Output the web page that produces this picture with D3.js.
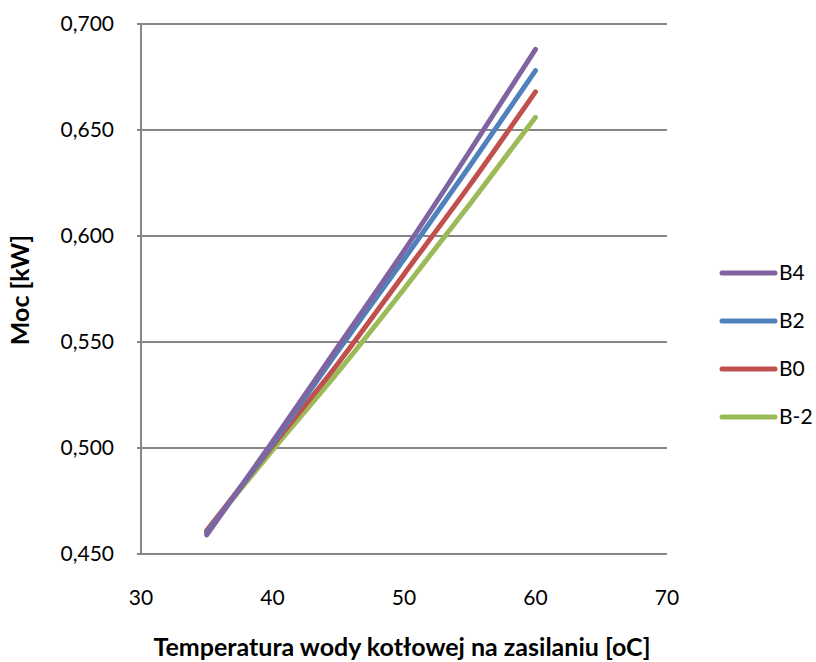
<!DOCTYPE html>
<html><head><meta charset="utf-8">
<script src="https://cdn.jsdelivr.net/npm/d3@7"></script>
<style>body{margin:0;background:#fff;}svg{display:block;font-family:Lato,"Open Sans",sans-serif;}</style>
</head><body>
<script>
const xValues = [35, 40, 45, 50, 55, 60];
const seriesNames = ["B4", "B2", "B0", "B-2"];
const B4  = [0.459, 0.503, 0.548, 0.593, 0.640, 0.688];
const B2  = [0.460, 0.502, 0.546, 0.589, 0.633, 0.678];
const B0  = [0.461, 0.501, 0.540, 0.582, 0.624, 0.668];
const Bm2 = [0.461, 0.499, 0.536, 0.575, 0.615, 0.656];
const seriesValues = [B4, B2, B0, Bm2];
const colors = ["#8064A2", "#4F81BD", "#C0504D", "#9BBB59"];
const xTicks = [30, 40, 50, 60, 70];
const yTicks = [0.45, 0.5, 0.55, 0.6, 0.65, 0.7];
const xTitle = "Temperatura wody kotłowej na zasilaniu [oC]";
const yTitle = "Moc [kW]";

const W = 816, H = 662;
const m = {left: 141, right: 667, top: 24, bottom: 554};
const svg = d3.select("body").append("svg").attr("width", W).attr("height", H);
const x = d3.scaleLinear().domain([30, 70]).range([m.left, m.right]);
const y = d3.scaleLinear().domain([0.45, 0.70]).range([m.bottom, m.top]);
const fmt = d => d3.format(".3f")(d).replace(".", ",");

// gridlines
svg.append("g").selectAll("line").data(yTicks).join("line")
  .attr("x1", m.left - 4).attr("x2", m.right)
  .attr("y1", d => y(d)).attr("y2", d => y(d))
  .attr("stroke", "#868686").attr("stroke-width", 2);
// y axis line
svg.append("line").attr("x1", m.left).attr("x2", m.left).attr("y1", m.top).attr("y2", m.bottom)
  .attr("stroke", "#868686").attr("stroke-width", 2);

// y tick labels
svg.append("g").selectAll("text").data(yTicks).join("text")
  .attr("x", 114).attr("y", d => y(d)).attr("dy", "0.35em")
  .attr("text-anchor", "end").attr("font-size", 21).attr("fill", "#000")
  .text(fmt);
// x tick labels
svg.append("g").selectAll("text").data(xTicks).join("text")
  .attr("x", d => x(d)).attr("y", 598).attr("dy", "0.35em")
  .attr("text-anchor", "middle").attr("font-size", 21).attr("fill", "#000")
  .text(d => d);

// titles
svg.append("text").attr("x", 402).attr("y", 647).attr("dy", "0.35em")
  .attr("text-anchor", "middle").attr("font-size", 25).attr("font-weight", "bold").text(xTitle);
svg.append("text").attr("transform", "translate(20,290) rotate(-90)").attr("dy", "0.35em")
  .attr("text-anchor", "middle").attr("font-size", 25).attr("font-weight", "bold").text(yTitle);

// lines
const line = d3.line().x((d, i) => x(xValues[i])).y(d => y(d)).curve(d3.curveMonotoneX);
const order = [3, 2, 1, 0];
svg.append("g").selectAll("path").data(order).join("path")
  .attr("d", i => line(seriesValues[i]))
  .attr("fill", "none").attr("stroke", i => colors[i]).attr("stroke-width", 5)
  .attr("stroke-linecap", "round").attr("stroke-linejoin", "round");

// legend
const lg = svg.append("g").selectAll("g").data(seriesNames).join("g")
  .attr("transform", (d, i) => `translate(0,${273 + i * 48})`);
lg.append("line").attr("x1", 722).attr("x2", 775).attr("y1", 0).attr("y2", 0)
  .attr("stroke", (d, i) => colors[i]).attr("stroke-width", 5).attr("stroke-linecap", "round");
lg.append("text").attr("x", 779).attr("y", 0).attr("dy", "0.35em")
  .attr("font-size", 21).attr("fill", "#000").text(d => d);
</script>
</body></html>
